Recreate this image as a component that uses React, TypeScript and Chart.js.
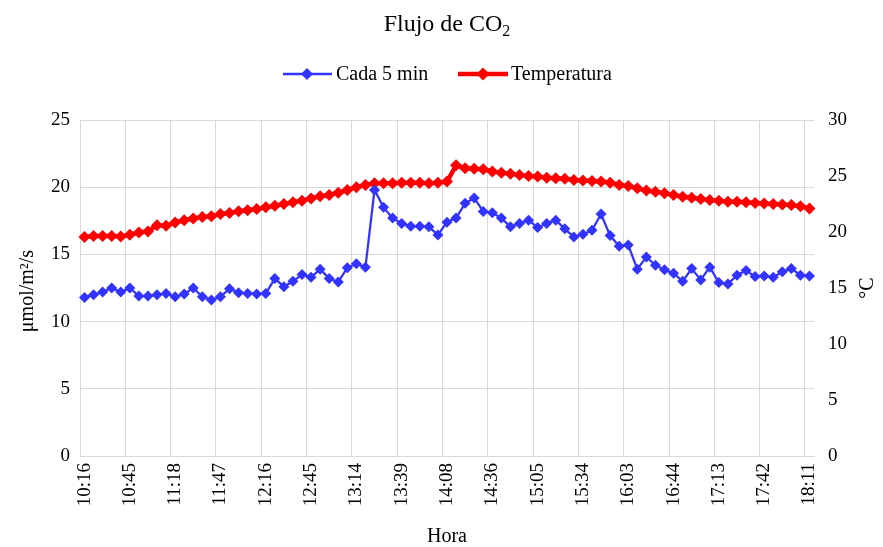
import React, { useEffect, useRef } from 'react';
import { Chart, registerables } from 'chart.js';

Chart.register(...registerables);

// ---- Data ----
const timeLabels: string[] = [
  '10:16', '10:22', '10:28', '10:34', '10:39', '10:45', '10:51', '10:58', '11:05', '11:11',
  '11:18', '11:24', '11:30', '11:35', '11:41', '11:47', '11:53', '11:59', '12:04', '12:10',
  '12:16', '12:22', '12:28', '12:33', '12:39', '12:45', '12:51', '12:57', '13:02', '13:08',
  '13:14', '13:19', '13:24', '13:29', '13:34', '13:39', '13:45', '13:51', '13:56', '14:02',
  '14:08', '14:13', '14:19', '14:25', '14:30', '14:36', '14:42', '14:48', '14:53', '14:59',
  '15:05', '15:11', '15:17', '15:22', '15:28', '15:34', '15:40', '15:46', '15:51', '15:57',
  '16:03', '16:11', '16:19', '16:28', '16:36', '16:44', '16:50', '16:56', '17:01', '17:07',
  '17:13', '17:19', '17:25', '17:30', '17:36', '17:42', '17:48', '17:54', '17:59', '18:05',
  '18:11',
];

const flujoCada5min: number[] = [
  11.8, 12.0, 12.2, 12.5, 12.2, 12.5, 11.9, 11.9, 12.0, 12.1,
  11.85, 12.05, 12.5, 11.85, 11.6, 11.85, 12.45, 12.15, 12.1, 12.05,
  12.1, 13.2, 12.6, 13.0, 13.5, 13.3, 13.9, 13.2, 12.95, 14.0,
  14.3, 14.05, 19.8, 18.5, 17.7, 17.3, 17.1, 17.1, 17.05, 16.45,
  17.4, 17.7, 18.8, 19.2, 18.2, 18.1, 17.7, 17.05, 17.3, 17.55,
  17.0, 17.3, 17.55, 16.9, 16.3, 16.5, 16.8, 18.0, 16.4, 15.6,
  15.7, 13.9, 14.8, 14.2, 13.85, 13.6, 13.0, 13.95, 13.1, 14.05,
  12.9, 12.8, 13.45, 13.8, 13.35, 13.4, 13.3, 13.7, 13.95, 13.45,
  13.4,
];

const temperatura: number[] = [
  19.55, 19.65, 19.65, 19.65, 19.6, 19.75, 19.95, 20.05, 20.6, 20.55,
  20.85, 21.05, 21.2, 21.35, 21.4, 21.6, 21.7, 21.85, 21.95, 22.05,
  22.2, 22.35, 22.5, 22.65, 22.8, 23.0, 23.2, 23.3, 23.5, 23.75,
  24.0, 24.2, 24.35, 24.35, 24.35, 24.4, 24.4, 24.4, 24.35, 24.4,
  24.5, 25.95, 25.7, 25.65, 25.6, 25.4, 25.3, 25.2, 25.1, 25.0,
  24.95, 24.85, 24.8, 24.75, 24.65, 24.6, 24.55, 24.5, 24.4, 24.2,
  24.1, 23.9, 23.7, 23.6, 23.45, 23.3, 23.15, 23.05, 22.95, 22.85,
  22.8, 22.7, 22.7, 22.65, 22.6, 22.55, 22.5, 22.45, 22.4, 22.3,
  22.1,
];

const LABEL_EVERY = 5;
const seriesNames = ['Cada 5 min', 'Temperatura'];
const chartTitle = 'Flujo de CO';
const chartTitleSub = '2';
const xTitle = 'Hora';
const yLeftTitle = 'μmol/m²/s';
const yRightTitle = '°C';

// ---- Styles ----
const W = 883;
const H = 547;
const FONT = '"Liberation Serif", "Times New Roman", serif';
const BLUE = '#3333FF';
const RED = '#FF0000';
const GRID = '#d9d9d9';
const TEXT = '#000000';

function diamond(ctx: CanvasRenderingContext2D, x: number, y: number, r: number, color: string) {
  ctx.beginPath();
  ctx.moveTo(x, y - r);
  ctx.lineTo(x + r, y);
  ctx.lineTo(x, y + r);
  ctx.lineTo(x - r, y);
  ctx.closePath();
  ctx.fillStyle = color;
  ctx.fill();
}

const decorPlugin = {
  id: 'decor',
  afterDraw(chart: any) {
    const ctx: CanvasRenderingContext2D = chart.ctx;
    ctx.save();
    ctx.fillStyle = TEXT;
    ctx.textBaseline = 'alphabetic';

    // Title with subscript
    ctx.font = `24px ${FONT}`;
    const w1 = ctx.measureText(chartTitle).width;
    ctx.font = `16px ${FONT}`;
    const w2 = ctx.measureText(chartTitleSub).width;
    const tx = 447 - (w1 + w2) / 2;
    ctx.font = `24px ${FONT}`;
    ctx.textAlign = 'left';
    ctx.fillText(chartTitle, tx, 31);
    ctx.font = `16px ${FONT}`;
    ctx.fillText(chartTitleSub, tx + w1, 36);

    // Legend
    const ly = 74;
    ctx.lineCap = 'butt';
    ctx.strokeStyle = BLUE;
    ctx.lineWidth = 2.5;
    ctx.beginPath();
    ctx.moveTo(283, ly);
    ctx.lineTo(332, ly);
    ctx.stroke();
    diamond(ctx, 307, ly, 6, BLUE);
    ctx.strokeStyle = RED;
    ctx.lineWidth = 4.5;
    ctx.beginPath();
    ctx.moveTo(458, ly);
    ctx.lineTo(508, ly);
    ctx.stroke();
    diamond(ctx, 483, ly, 6.5, RED);
    ctx.fillStyle = TEXT;
    ctx.font = `20px ${FONT}`;
    ctx.textBaseline = 'middle';
    ctx.textAlign = 'left';
    ctx.fillText(seriesNames[0], 336, ly + 1);
    ctx.fillText(seriesNames[1], 511, ly + 1);

    // Axis titles
    ctx.textAlign = 'center';
    ctx.fillText(xTitle, 447, 537);

    ctx.save();
    ctx.translate(28, 291);
    ctx.rotate(-Math.PI / 2);
    ctx.fillText(yLeftTitle, 0, 0);
    ctx.restore();

    ctx.save();
    ctx.translate(868, 288);
    ctx.rotate(-Math.PI / 2);
    ctx.fillText(yRightTitle, 0, 0);
    ctx.restore();

    ctx.restore();
  },
};

export default function App() {
  const canvasRef = useRef<HTMLCanvasElement | null>(null);

  useEffect(() => {
    document.body.style.margin = '0';
    document.body.style.overflow = 'hidden';
    const canvas = canvasRef.current;
    if (!canvas) return;

    const chart = new Chart(canvas, {
      type: 'line',
      data: {
        labels: timeLabels,
        datasets: [
          {
            label: seriesNames[0],
            data: flujoCada5min,
            yAxisID: 'y',
            borderColor: BLUE,
            backgroundColor: BLUE,
            borderWidth: 2.25,
            pointStyle: 'rectRot',
            pointRadius: 5.5,
            pointBorderWidth: 0,
            pointBackgroundColor: BLUE,
            tension: 0,
            order: 0,
          },
          {
            label: seriesNames[1],
            data: temperatura,
            yAxisID: 'y1',
            borderColor: RED,
            backgroundColor: RED,
            borderWidth: 4.5,
            pointStyle: 'rectRot',
            pointRadius: 6,
            pointBorderWidth: 0,
            pointBackgroundColor: RED,
            tension: 0,
            order: 1,
          },
        ],
      },
      options: {
        responsive: false,
        animation: false,
        devicePixelRatio: 1,
        layout: { padding: { top: 120, left: 0, right: 0, bottom: 0 } },
        plugins: {
          legend: { display: false },
          title: { display: false },
          tooltip: { enabled: false },
        },
        scales: {
          x: {
            type: 'category',
            offset: true,
            grid: {
              offset: true,
              drawTicks: false,
              lineWidth: 1,
              color: (c: any) =>
                typeof c.index === 'number' && c.index % LABEL_EVERY === 0 ? GRID : 'rgba(0,0,0,0)',
            },
            border: { display: true, color: GRID, width: 1 },
            ticks: {
              autoSkip: false,
              minRotation: 90,
              maxRotation: 90,
              padding: 7,
              color: TEXT,
              font: { family: FONT, size: 19 },
              callback: (_v: any, i: number) => (i % LABEL_EVERY === 0 ? timeLabels[i] : ''),
            },
            afterFit: (s: any) => {
              s.height = 91;
            },
          },
          y: {
            position: 'left',
            min: 0,
            max: 25,
            grid: { color: GRID, drawTicks: false, lineWidth: 1 },
            border: { display: false },
            ticks: {
              stepSize: 5,
              padding: 10,
              color: TEXT,
              font: { family: FONT, size: 19 },
            },
            afterFit: (s: any) => {
              s.width = 80;
            },
          },
          y1: {
            position: 'right',
            min: 0,
            max: 30,
            grid: { display: false, drawOnChartArea: false, drawTicks: false },
            border: { display: false },
            ticks: {
              stepSize: 5,
              padding: 14,
              color: TEXT,
              font: { family: FONT, size: 19 },
            },
            afterFit: (s: any) => {
              s.width = 69;
            },
          },
        },
      },
      plugins: [decorPlugin],
    } as any);

    return () => {
      chart.destroy();
    };
  }, []);

  return (
    <div style={{ width: W, height: H, background: '#fff' }}>
      <canvas ref={canvasRef} width={W} height={H} style={{ display: 'block', width: W, height: H }} />
    </div>
  );
}
